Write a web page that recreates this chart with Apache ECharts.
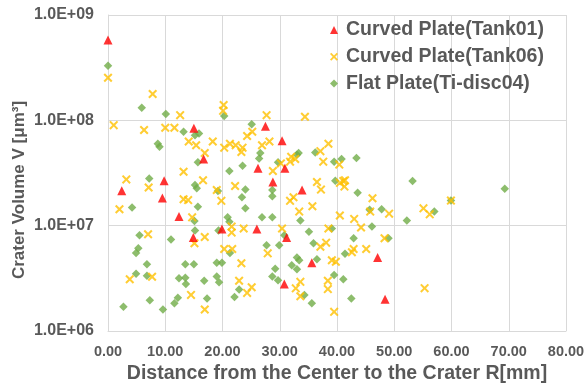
<!DOCTYPE html>
<html>
<head>
<meta charset="utf-8">
<script src="https://cdn.jsdelivr.net/npm/echarts@6/dist/echarts.min.js"></script>
<style>
  html, body { margin: 0; padding: 0; background: #fff; }
  #chart { width: 587px; height: 389px; }
</style>
</head>
<body>
<div id="chart"></div>
<script>
// [R mm, V um^3]
const tank01Points = [
  [0.0, 5.8e8], [15.0, 8.4e7], [16.7, 4.3e7], [2.4, 2.15e7], [9.8, 2.67e7],
  [9.5, 1.83e7], [12.4, 1.22e7], [14.9, 7.7e6], [19.9, 9.3e6], [27.5, 8.8e7],
  [30.4, 6.4e7], [26.2, 3.5e7], [30.9, 3.5e7], [28.8, 2.6e7], [33.9, 2.18e7],
  [26.0, 9.3e6], [31.2, 7.7e6], [35.6, 4.45e6], [30.8, 2.8e6], [47.1, 5.0e6],
  [48.4, 2.0e6]
];
const tank06Points = [
  [0.0, 2.54e8], [7.8, 1.78e8], [12.6, 1.12e8], [20.2, 1.4e8], [20.1, 1.23e8],
  [27.7, 1.12e8], [34.4, 1.08e8], [1.0, 9.0e7], [6.3, 8.1e7], [10.0, 8.5e7],
  [11.6, 8.5e7], [14.1, 6.3e7], [15.4, 5.8e7], [18.3, 6.3e7], [16.9, 4.9e7],
  [13.2, 3.25e7], [3.2, 2.75e7], [7.1, 2.3e7], [16.6, 2.7e7], [19.0, 2.18e7],
  [13.2, 1.78e7], [14.0, 1.75e7], [19.8, 1.72e7], [2.0, 1.43e7], [14.7, 1.2e7],
  [24.3, 7.1e7], [25.2, 7.8e7], [20.3, 5.5e7], [21.3, 6.0e7], [22.3, 5.8e7],
  [23.5, 5.5e7], [23.3, 5.0e7], [26.9, 5.8e7], [28.2, 6.3e7], [32.0, 4.5e7],
  [31.8, 4.05e7], [32.7, 4.3e7], [30.2, 3.9e7], [28.8, 3.3e7], [38.5, 6.0e7],
  [37.1, 5.1e7], [37.6, 4.05e7], [22.2, 2.38e7], [36.5, 2.6e7], [37.2, 2.2e7],
  [40.5, 2.55e7], [41.1, 2.65e7], [32.4, 1.86e7], [31.8, 1.72e7], [35.7, 1.53e7],
  [33.4, 1.36e7], [40.5, 1.25e7], [7.0, 8.3e6], [16.9, 7.8e6], [15.1, 6.8e6],
  [20.3, 6.0e6], [3.8, 3.1e6], [7.7, 3.27e6], [14.5, 2.2e6], [16.9, 1.6e6],
  [21.6, 9.8e6], [21.6, 8.6e6], [23.7, 9.4e6], [30.4, 9.4e6], [38.5, 9.4e6],
  [37.1, 6.3e6], [38.1, 6.9e6], [21.7, 6.0e6], [27.9, 5.46e6], [39.1, 4.7e6],
  [39.8, 4.55e6], [23.3, 4.4e6], [33.6, 2.93e6], [32.8, 2.54e6], [33.6, 2.14e6],
  [22.9, 3.0e6], [24.3, 2.3e6], [25.1, 2.6e6], [38.4, 3.0e6], [38.4, 2.5e6],
  [39.5, 1.52e6], [40.4, 3.8e7], [41.4, 2.7e7], [41.3, 2.35e7], [46.2, 1.82e7],
  [59.9, 1.73e7], [55.1, 1.46e7], [56.2, 1.28e7], [45.8, 1.36e7], [49.1, 1.3e7],
  [43.0, 1.16e7], [44.2, 9.6e6], [48.3, 7.6e6], [42.9, 6.0e6], [42.6, 5.6e6],
  [45.1, 6.0e6], [55.3, 2.55e6]
];
const disc04Points = [
  [0.0, 3.3e8], [5.9, 1.32e8], [10.1, 1.15e8], [20.3, 1.1e8], [13.2, 7.8e7],
  [15.2, 7.2e7], [15.9, 7.5e7], [8.7, 6.0e7], [9.0, 5.6e7], [15.7, 4.0e7],
  [7.2, 2.8e7], [15.2, 2.43e7], [15.5, 2.26e7], [19.2, 2.13e7], [4.2, 1.49e7],
  [15.7, 1.51e7], [25.1, 9.2e7], [26.6, 4.9e7], [26.4, 4.35e7], [29.7, 4.0e7],
  [33.0, 4.7e7], [33.3, 4.9e7], [21.2, 3.3e7], [23.5, 3.7e7], [36.2, 4.95e7],
  [39.5, 4.05e7], [40.8, 4.3e7], [24.0, 2.2e7], [23.4, 1.86e7], [28.7, 2.18e7],
  [28.7, 1.9e7], [39.7, 2.67e7], [24.0, 1.46e7], [20.9, 1.2e7], [26.9, 1.2e7],
  [28.7, 1.2e7], [15.1, 1.11e7], [5.5, 8.1e6], [11.0, 7.4e6], [15.2, 9.0e6],
  [19.3, 9.0e6], [5.3, 6.1e6], [4.9, 5.5e6], [6.8, 4.3e6], [13.5, 4.3e6],
  [15.0, 4.3e6], [19.0, 4.45e6], [19.9, 4.45e6], [4.9, 3.5e6], [6.8, 3.35e6],
  [12.4, 3.16e6], [13.5, 3.2e6], [13.6, 2.8e6], [16.8, 3.0e6], [19.0, 3.3e6],
  [19.4, 2.9e6], [12.2, 2.07e6], [11.6, 1.83e6], [17.3, 2.03e6], [7.3, 1.96e6],
  [2.7, 1.7e6], [9.6, 1.6e6], [21.2, 1.09e7], [33.6, 1.12e7], [30.8, 8.1e6],
  [35.1, 8.75e6], [39.1, 9.4e6], [27.7, 6.5e6], [29.9, 6.5e6], [35.9, 6.8e6],
  [21.3, 5.5e6], [33.0, 5.0e6], [33.4, 4.7e6], [32.1, 4.2e6], [33.0, 3.85e6],
  [36.5, 4.8e6], [29.2, 3.9e6], [28.7, 3.3e6], [29.7, 3.04e6], [34.3, 2.2e6],
  [35.6, 1.83e6], [22.9, 2.48e6], [22.1, 2.1e6], [39.5, 3.4e6], [41.1, 3.1e6],
  [43.4, 4.4e7], [43.6, 2.05e7], [53.2, 2.65e7], [69.3, 2.24e7], [59.9, 1.73e7],
  [57.0, 1.36e7], [45.7, 1.42e7], [47.8, 1.43e7], [52.2, 1.12e7], [46.1, 9.8e6],
  [42.9, 7.6e6], [49.0, 7.6e6], [41.4, 5.4e6], [42.5, 2.03e6]
];
const seriesNames = ['Curved Plate(Tank01)', 'Curved Plate(Tank06)', 'Flat Plate(Ti-disc04)'];

const FONT = '"Liberation Sans", Arial, sans-serif';
const GREY = '#595959';
// excel style "x" marker, thick arms
const crossPath = 'path://M0,1.6L1.6,0L5,3.4L8.4,0L10,1.6L6.6,5L10,8.4L8.4,10L5,6.6L1.6,10L0,8.4L3.4,5Z';

const chart = echarts.init(document.getElementById('chart'));
chart.setOption({
  animation: false,
  grid: { left: 108, right: 21, top: 15, bottom: 58, outerBoundsMode: 'none' },
  legend: {
    orient: 'vertical',
    left: 330,
    top: 19,
    padding: 0,
    itemWidth: 8,
    itemHeight: 8,
    itemGap: 4.7,
    textStyle: { fontFamily: FONT, fontWeight: 'bold', fontSize: 19.5, color: GREY, lineHeight: 22, padding: [0, 0, 0, 3] },
    data: [
      { name: seriesNames[0], icon: 'triangle' },
      { name: seriesNames[1], icon: crossPath },
      { name: seriesNames[2], icon: 'diamond' }
    ]
  },
  xAxis: {
    type: 'value',
    min: 0,
    max: 80,
    interval: 10,
    name: 'Distance from the Center to the Crater R[mm]',
    nameLocation: 'middle',
    nameGap: 33,
    nameMoveOverlap: false,
    nameTextStyle: { fontFamily: FONT, fontWeight: 'bold', fontSize: 19.5, color: GREY },
    axisLine: { lineStyle: { color: '#D9D9D9' } },
    axisTick: { show: false },
    axisLabel: {
      margin: 13,
      fontFamily: FONT, fontWeight: 'bold', fontSize: 14.5, color: GREY,
      formatter: v => v.toFixed(2)
    },
    splitLine: { show: true, lineStyle: { color: '#D9D9D9' } }
  },
  yAxis: {
    type: 'log',
    logBase: 10,
    min: 1e6,
    max: 1e9,
    splitNumber: 3,
    name: 'Crater Volume V [μm³]',
    nameLocation: 'middle',
    nameGap: 80,
    nameMoveOverlap: false,
    nameTextStyle: { fontFamily: FONT, fontWeight: 'bold', fontSize: 17, color: GREY, padding: [0, 34, 0, 0] },
    axisLine: { show: true, lineStyle: { color: '#D9D9D9' } },
    axisTick: { show: false },
    axisLabel: {
      margin: 14,
      fontFamily: FONT, fontWeight: 'bold', fontSize: 16, color: GREY,
      formatter: v => {
        const e = Math.round(Math.log10(v));
        return '1.0E+' + (e < 10 ? '0' : '') + e;
      }
    },
    splitLine: { show: true, lineStyle: { color: '#D9D9D9' } }
  },
  series: [
    {
      name: seriesNames[0], type: 'scatter', symbol: 'triangle', symbolSize: 9,
      itemStyle: { color: '#FF0000' }, data: tank01Points, z: 3
    },
    {
      name: seriesNames[1], type: 'scatter', symbol: crossPath, symbolSize: 9,
      itemStyle: { color: '#FFC000' }, data: tank06Points, z: 2
    },
    {
      name: seriesNames[2], type: 'scatter', symbol: 'diamond', symbolSize: 8.5,
      itemStyle: { color: '#70AD47' }, data: disc04Points, z: 1
    }
  ]
});
</script>
</body>
</html>
